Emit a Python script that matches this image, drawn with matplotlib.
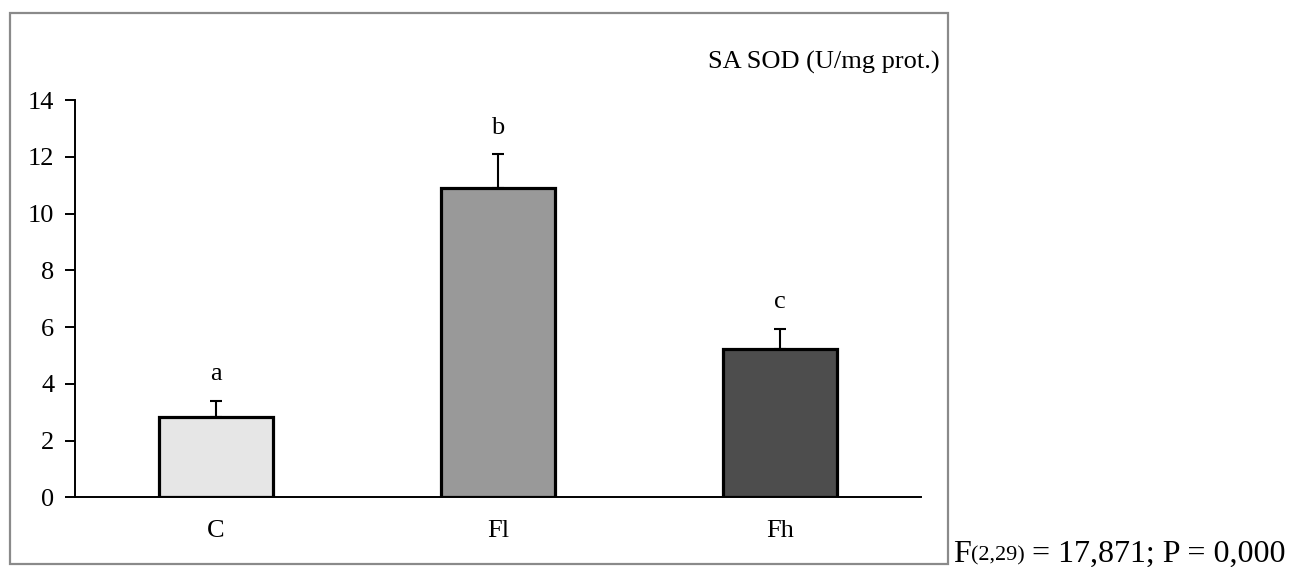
import matplotlib
matplotlib.use("Agg")
from matplotlib import pyplot as plt
from matplotlib.patches import Rectangle
import numpy as np

plt.rcParams['font.family'] = ['Liberation Serif', 'DejaVu Serif']

groups = ["C", "Fl", "Fh"]
means = [2.82, 10.89, 5.22]
errors = [0.57, 1.20, 0.72]
letters = ["a", "b", "c"]
colors = ["#e6e6e6", "#999999", "#4d4d4d"]
y_ticks = [0, 2, 4, 6, 8, 10, 12, 14]
stat_parts = ["F", "(2,29)", " = 17,871; P = 0,000"]

W, H = 1293, 567
fig = plt.figure(figsize=(W / 100, H / 100), dpi=100)
ax = fig.add_axes([75 / W, 1 - 497.3 / H, (920.7 - 75) / W, (497.3 - 100) / H])

x = np.arange(len(groups))
ax.bar(x, means, width=0.405, color=colors, edgecolor="black", linewidth=2.3, zorder=3)
ax.errorbar(x, means, yerr=[np.zeros(len(means)), errors], fmt="none",
            ecolor="black", elinewidth=1.5, capsize=4, capthick=1.5, zorder=2)

for xi, m, e, lab in zip(x, means, errors, letters):
    ax.text(xi, m + e + 0.55, lab, ha="center", va="bottom", fontsize=19)

ax.set_xlim(-0.5, 2.5)
ax.set_ylim(0, 14)
ax.set_yticks(y_ticks)
ax.set_xticks(x, groups)
ax.tick_params(axis="y", direction="out", length=7, width=1.4, labelsize=19, pad=8)
ax.tick_params(axis="x", length=0, labelsize=19, pad=16)
for side in ["top", "right"]:
    ax.spines[side].set_visible(False)
for side in ["left", "bottom"]:
    ax.spines[side].set_linewidth(1.4)

fig.text(940 / W, 1 - 62 / H, "SA SOD (U/mg prot.)", ha="right", va="center", fontsize=19)

# outer chart border
fig.patches.append(Rectangle((10 / W, 1 - 564 / H), (948 - 10) / W, (564 - 13) / H,
                             transform=fig.transFigure, fill=False,
                             edgecolor="#8a8a8a", linewidth=1.6))

# statistic text outside the border, with a subscript
renderer = fig.canvas.get_renderer()
xpos = 953
for part, size, base in zip(stat_parts, [23, 16, 23], [562, 560, 562]):
    t = fig.text(xpos / W, 1 - base / H, part, ha="left", va="baseline", fontsize=size)
    xpos = t.get_window_extent(renderer).x1

fig.savefig("out.png", dpi=100)
